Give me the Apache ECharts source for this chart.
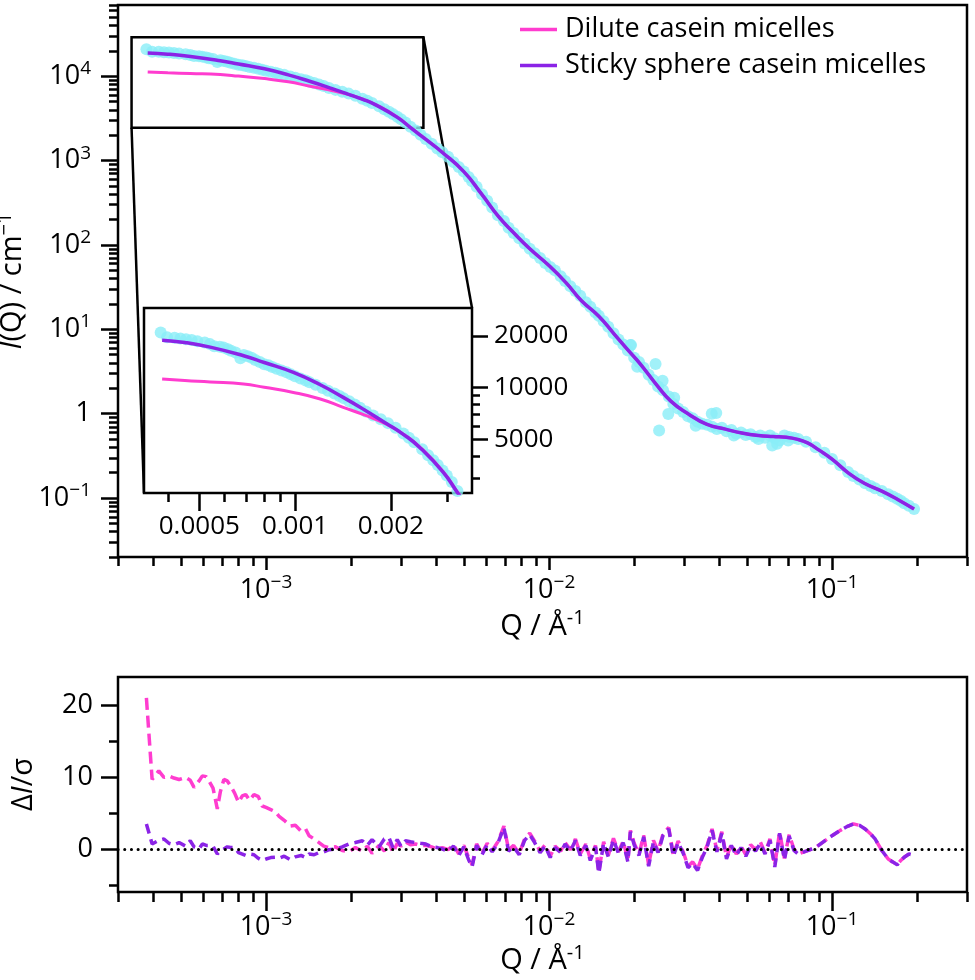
<!DOCTYPE html>
<html><head><meta charset="utf-8">
<script src="https://cdn.jsdelivr.net/npm/echarts@6/dist/echarts.min.js"></script>
<style>html,body{margin:0;padding:0;background:#fff}#c{width:975px;height:980px}</style>
</head><body><div id="c"></div><script>
// ---------------- data ----------------
const dataQ = [
0.000378,0.000396,0.000418,0.000436,0.000454,0.000473,0.000493,0.000520,0.000540,0.000557,
0.000580,0.000596,0.000615,0.000629,0.000650,0.000673,0.000690,0.000710,0.000730,0.000750,
0.000775,0.000800,0.000825,0.000848,0.000875,0.000907,0.000940,0.000970,0.00100,0.00104,
0.00108,0.00111,0.00116,0.00122,0.00127,0.00133,0.00138,0.00142,0.00148,0.00154,
0.00160,0.00167,0.00176,0.00186,0.00196,0.00207,0.00219,0.00228,0.00237,0.00251,
0.00262,0.00272,0.00281,0.00291,0.00300,0.00311,0.00324,0.00338,0.00352,0.00367,
0.00385,0.00403,
0.00420,0.00440,0.00460,0.00480,0.00500,0.00520,0.00535,0.00555,0.00580,0.00605,
0.00630,0.00660,0.00693,0.00720,0.00750,0.00785,0.00820,0.00855,0.00890,0.00930,
0.00970,0.0101,0.0105,0.0110,0.0114,0.0119,0.0124,0.0129,0.0135,0.0140,
0.0146,0.0150,0.0156,0.0162,0.0169,0.0176,0.0183,0.0190,0.0194,0.0200,
0.0208,0.0216,0.0225,0.0234,0.0243,0.0253,0.0265,0.0275,0.0286,0.0298,
0.0310,0.0322,0.0335,0.0348,0.0362,0.0377,0.0392,0.0408,0.0424,0.0441,
0.0459,0.0477,0.0496,0.0516,0.0537,0.0558,0.0580,0.0604,0.0628,0.0653,
0.0679,0.0706,0.0734,
0.0760,0.0810,0.0875,0.0940,0.100,0.107,0.114,0.119,0.125,0.131,
0.137,0.142,0.150,0.158,0.164,0.170,0.175,0.180,0.187,0.195];
const dataI = [
20900,19600,19500,19300,19100,18900,18600,18300,17900,17400,
17300,17100,16700,16400,16000,14800,15500,15200,14900,14500,
14100,13700,13500,13200,12900,12600,12300,11950,11650,11300,
11000,10750,10400,9950,9600,9250,8950,8700,8350,8000,
7650,7280,6900,6560,6230,5860,5430,5120,4830,4400,
4060,3800,3560,3310,3100,2840,2520,2280,2030,1810,
1590,1390,
1260,1110,960,840,745,640,570,490,400,335,
278,225,192,160,139,120,104,90,80,70,
61,55,50,42.5,37.5,32.5,28.5,25,21,18.5,
15.8,14.5,12.5,10.7,9.0,7.6,6.6,5.6,6.5,4.6,
4.1,3.5,2.9,2.5,2.1,1.9,1.6,1.3,1.15,1.05,
0.93,0.88,0.80,0.76,0.74,0.70,0.66,0.68,0.62,0.64,
0.58,0.60,0.56,0.57,0.53,0.55,0.52,0.55,0.51,0.48,
0.55,0.53,0.52,
0.50,0.465,0.40,0.345,0.29,0.245,0.203,0.183,0.166,0.150,
0.139,0.131,0.121,0.111,0.104,0.098,0.093,0.087,0.081,0.074];
const extraQ = [0.0195,0.0205,0.0238,0.0245,0.0252,0.0264,0.0277,0.0330,0.0376,0.0390,0.0450,0.0550,0.0615,0.0640,0.0700];
const extraI = [6.5,3.6,3.87,0.63,2.45,0.99,1.55,0.72,1.0,1.02,0.55,0.50,0.42,0.44,0.48];

const fitQ = [0.000382,0.00045,0.000541,0.000689,0.0008,0.000988,0.0012,0.001417,0.00165,0.001937,
0.0022,0.00246,0.00292,0.00325,0.0037,0.0042,0.005,0.0058,0.00665,0.0075,
0.0085,0.01,0.0115,0.013,0.015,0.017,0.019,0.021,0.024,0.027,
0.031,0.036,0.042,0.048,0.055,0.062,0.069,0.075,0.082,0.09,
0.1,0.115,0.13,0.15,0.17,0.195];
const fitDilute = [11230,11000,10800,10500,10050,9390,8600,7690,6950,6150,
5350,4560,3270,2460,1760,1255,742,396,215,140,
92,57,35.6,22,14.3,8.8,5.7,3.9,2.2,1.4,
1.0,0.75,0.656,0.59,0.55,0.535,0.525,0.50,0.45,0.37,
0.29,0.195,0.15,0.121,0.097,0.074];
const fitSticky = [18880,18300,17200,15320,14000,12260,10400,8790,7450,6200,
5330,4520,3236,2443,1745,1250,740,395,215,140,
92,57,35.6,22,14.3,8.8,5.7,3.9,2.2,1.4,
1.0,0.75,0.656,0.59,0.55,0.535,0.525,0.50,0.45,0.37,
0.29,0.195,0.15,0.121,0.097,0.074];

const residDilute = [
21.1,9.7,10.9,10.0,10.2,9.9,9.7,10.0,9.6,8.6,
9.5,10.2,10.1,9.5,8.5,5.6,8.0,9.7,9.5,8.8,
7.8,6.5,7.4,7.6,6.8,7.6,7.3,6.0,5.8,5.5,
5.2,4.6,4.0,3.2,3.3,2.5,2.8,1.85,1.4,0.9,
0.4,0.2,0.3,-0.2,-0.4,0.2,-0.3,0.4,-0.6,0.5,
-0.3,0.9,-0.5,0.8,0.4,1.0,0.6,0.7,0.5,0.5,
0.3,0.0,
0.2,-0.1,0.6,-0.7,0.5,-1.2,-2.2,0.7,-0.6,0.8,
-0.2,1.0,3.2,-0.1,0.5,-0.6,1.4,2.2,1.1,-0.3,
0.6,-1.0,0.4,-0.3,0.9,-0.1,1.4,-0.7,0.7,-1.4,
0.5,-3.2,1.0,-0.9,1.5,-0.4,1.1,-1.6,2.6,0.8,
-0.7,1.9,-2.2,1.2,-0.3,2.1,3.0,-0.8,1.1,-0.4,
-2.4,-1.8,-2.8,-1.0,0.5,2.8,-0.2,2.4,-1.2,0.7,
-0.7,0.4,-0.8,0.6,-0.1,1.0,-0.5,1.4,-2.3,2.4,
-1.3,2.0,0.0,
-0.7,-0.3,0.2,1.1,1.85,2.6,3.2,3.5,3.3,2.8,
2.1,1.4,-0.2,-1.4,-1.8,-2.2,-1.6,-1.15,-0.7,-0.9];
const residSticky = [
3.5,0.7,1.2,1.4,0.8,0.6,0.9,0.4,1.15,0.3,
0.0,0.7,0.5,0.5,0.4,-0.7,-0.3,0.0,0.3,0.2,
0.2,-0.5,-0.7,-0.9,-0.7,-0.8,-1.3,-1.6,-1.4,-1.2,
-1.15,-1.3,-1.0,-1.5,-1.1,-0.9,-1.2,-0.7,-0.8,-0.5,
-0.4,-0.1,0.0,0.3,0.7,0.9,1.15,0.5,1.3,0.3,
1.4,1.6,0.2,1.3,0.4,1.15,1.0,0.9,0.8,0.7,
0.3,0.2,
0.0,-0.3,0.4,-0.9,0.3,-1.5,-2.5,0.5,-0.8,0.6,
-0.4,0.8,3.0,-0.3,0.3,-0.8,1.2,2.0,0.9,-0.5,
0.4,-1.2,0.2,-0.5,0.7,-0.3,1.2,-0.9,0.5,-1.6,
0.3,-3.4,0.8,-1.1,1.3,-0.6,0.9,-1.8,2.4,0.6,
-0.9,1.7,-2.4,1.0,-0.5,1.9,2.8,-1.0,0.9,-0.6,
-2.6,-2.0,-3.0,-1.2,0.3,2.6,-0.4,2.2,-1.4,0.5,
-0.9,0.2,-1.0,0.4,-0.3,0.8,-0.7,1.2,-2.5,2.2,
-1.5,1.8,-0.2,
-0.7,-0.3,0.2,1.1,1.85,2.6,3.2,3.5,3.3,2.8,
2.1,1.4,-0.2,-1.4,-1.8,-2.2,-1.6,-1.15,-0.7,-0.9];

// axis ranges and ticks
const qRange = [3e-4, 0.3];
const iRange = [0.02, 7e4];
const insetQRange = [3.35e-4, 3.6e-3];
const insetIRange = [2450, 29000];
const residRange = [-6, 24];

const mainXTicks = [1e-3, 1e-2, 1e-1];
const mainXTickLabels = ['10{s|−3}', '10{s|−2}', '10{s|−1}'];
const mainXMinor = [3e-4,4e-4,5e-4,6e-4,7e-4,8e-4,9e-4,2e-3,3e-3,4e-3,5e-3,6e-3,7e-3,8e-3,9e-3,
  2e-2,3e-2,4e-2,5e-2,6e-2,7e-2,8e-2,9e-2,0.2,0.3];
const mainYTicks = [0.1, 1, 10, 100, 1000, 10000];
const mainYTickLabels = ['10{s|−1}', '1', '10{s|1}', '10{s|2}', '10{s|3}', '10{s|4}'];
const mainYMinor = [0.02,0.03,0.04,0.05,0.06,0.07,0.08,0.09,0.2,0.3,0.4,0.5,0.6,0.7,0.8,0.9,
  2,3,4,5,6,7,8,9,20,30,40,50,60,70,80,90,200,300,400,500,600,700,800,900,
  2000,3000,4000,5000,6000,7000,8000,9000,20000,30000,40000,50000,60000,70000];
const insetXTicks = [0.0005, 0.001, 0.002];
const insetXTickLabels = ['0.0005', '0.001', '0.002'];
const insetXMinor = [4e-4, 6e-4, 7e-4, 8e-4, 9e-4, 3e-3];
const insetYTicks = [5000, 10000, 20000];
const insetYTickLabels = ['5000', '10000', '20000'];
const insetYMinor = [3000, 4000, 6000, 7000, 8000, 9000];
const residYTicks = [0, 10, 20];
const residYTickLabels = ['0', '10', '20'];
const residYMinor = [-5, 5, 15];

const names = ['Dilute casein micelles', 'Sticky sphere casein micelles'];

// ---------------- styling ----------------
const F = 'Open Sans';
const PINK = '#ff3ccf', PURPLE = '#8b23e6', CYAN = '#8aeef8';
const LW = 2.5;
const SUP = { fontSize: 19, fontFamily: F, color: '#000', padding: [0, 0, 15, 0] };
const SUPN = { fontSize: 20, fontFamily: F, color: '#000', padding: [0, 0, 16, 0] };
const IT = { fontStyle: 'italic', fontSize: 29, fontFamily: F, color: '#000' };
const NRM = { fontSize: 29, fontFamily: F, color: '#000' };

function lookup(ticks, labels) {
  return function (v) {
    for (let k = 0; k < ticks.length; k++) {
      if (Math.abs(ticks[k] - v) <= Math.abs(ticks[k]) * 1e-6 + 1e-12) return labels[k];
    }
    return '';
  };
}
function majorAxis(o) {
  return {
    type: o.type || 'log', gridIndex: o.grid, min: o.range[0], max: o.range[1], position: o.pos,
    axisLine: { show: false, onZero: false },
    splitLine: { show: false },
    axisTick: { show: true, inside: false, length: o.len, customValues: o.ticks,
      lineStyle: { color: '#000', width: LW } },
    axisLabel: { show: true, customValues: o.ticks, formatter: lookup(o.ticks, o.labels),
      margin: o.margin, fontSize: o.fs, fontFamily: F, color: '#000', rich: { s: SUP } },
    name: o.name || '', nameLocation: 'middle', nameGap: o.nameGap || 0, nameRotate: o.nameRotate,
    nameTextStyle: { fontSize: 29, fontFamily: F, color: '#000', rich: { s: SUPN, i: IT, n: NRM } },
    z: 5
  };
}
function minorAxis(o) {
  return {
    type: o.type || 'log', gridIndex: o.grid, min: o.range[0], max: o.range[1], position: o.pos,
    axisLine: { show: false, onZero: false }, splitLine: { show: false },
    axisTick: { show: true, inside: false, length: o.len, customValues: o.ticks,
      lineStyle: { color: '#000', width: LW } },
    axisLabel: { show: false }, z: 5
  };
}

const scatterData = dataQ.map((q, k) => [q, dataI[k]]).concat(extraQ.map((q, k) => [q, extraI[k]]));
const diluteData = fitQ.map((q, k) => [q, fitDilute[k]]);
const stickyData = fitQ.map((q, k) => [q, fitSticky[k]]);
const rDil = dataQ.map((q, k) => [q, residDilute[k]]);
const rSti = dataQ.map((q, k) => [q, residSticky[k]]);

const gridBase = { show: true, borderColor: '#000', borderWidth: LW, backgroundColor: '#fff',
  containLabel: false, outerBoundsMode: 'none' };

const option = {
  animation: false,
  backgroundColor: '#fff',
  grid: [
    Object.assign({ left: 118, top: 5, width: 849, height: 552 }, gridBase),
    Object.assign({ left: 144, top: 308, width: 328, height: 185, z: 3 }, gridBase),
    Object.assign({ left: 118, top: 677, width: 849, height: 215 }, gridBase)
  ],
  xAxis: [
    majorAxis({ grid: 0, range: qRange, pos: 'bottom', len: 13, ticks: mainXTicks, labels: mainXTickLabels,
      margin: 16, fs: 27, name: '{n|Q / Å}{s|-1}', nameGap: 46 }),
    minorAxis({ grid: 0, range: qRange, pos: 'bottom', len: 9, ticks: mainXMinor }),
    majorAxis({ grid: 1, range: insetQRange, pos: 'bottom', len: 18, ticks: insetXTicks, labels: insetXTickLabels,
      margin: 21, fs: 26 }),
    minorAxis({ grid: 1, range: insetQRange, pos: 'bottom', len: 9, ticks: insetXMinor }),
    majorAxis({ grid: 2, range: qRange, pos: 'bottom', len: 19, ticks: mainXTicks, labels: mainXTickLabels,
      margin: 18, fs: 27, name: '{n|Q / Å}{s|-1}', nameGap: 51 }),
    minorAxis({ grid: 2, range: qRange, pos: 'bottom', len: 10, ticks: mainXMinor })
  ],
  yAxis: [
    majorAxis({ grid: 0, range: iRange, pos: 'left', len: 17, ticks: mainYTicks, labels: mainYTickLabels,
      margin: 27, fs: 27, name: '{i|I}{n|(Q) / cm}{s|−1}', nameGap: 74, nameRotate: 90 }),
    minorAxis({ grid: 0, range: iRange, pos: 'left', len: 9, ticks: mainYMinor }),
    majorAxis({ grid: 1, range: insetIRange, pos: 'right', len: 16, ticks: insetYTicks, labels: insetYTickLabels,
      margin: 22, fs: 26 }),
    minorAxis({ grid: 1, range: insetIRange, pos: 'right', len: 8, ticks: insetYMinor }),
    majorAxis({ type: 'value', grid: 2, range: residRange, pos: 'left', len: 17, ticks: residYTicks, labels: residYTickLabels,
      margin: 25, fs: 27, name: '{n|Δ}{i|I}{n|/σ}', nameGap: 80, nameRotate: 90 }),
    minorAxis({ type: 'value', grid: 2, range: residRange, pos: 'left', len: 9, ticks: residYMinor })
  ],
  legend: {
    orient: 'vertical', left: 515, top: 11, itemWidth: 37, itemHeight: 3.5, itemGap: 9,
    icon: 'rect', selectedMode: false, data: names,
    textStyle: { fontSize: 27, fontFamily: F, color: '#000', padding: [0, 0, 0, 3] }
  },
  series: [
    { type: 'scatter', name: 'data', xAxisIndex: 0, yAxisIndex: 0, data: scatterData, symbolSize: 12,
      itemStyle: { color: CYAN }, z: 2, silent: true },
    { type: 'line', name: names[0], xAxisIndex: 0, yAxisIndex: 0, data: diluteData, showSymbol: false, symbol: 'none',
      smooth: 0.5, lineStyle: { color: PINK, width: 3 }, itemStyle: { color: PINK }, z: 3 },
    { type: 'line', name: names[1], xAxisIndex: 0, yAxisIndex: 0, data: stickyData, showSymbol: false, symbol: 'none',
      smooth: 0.5, lineStyle: { color: PURPLE, width: 3.5 }, itemStyle: { color: PURPLE }, z: 4 },
    { type: 'scatter', name: 'data inset', xAxisIndex: 2, yAxisIndex: 2, data: scatterData, symbolSize: 12,
      itemStyle: { color: CYAN }, z: 6, silent: true, clip: true },
    { type: 'line', name: 'dilute inset', xAxisIndex: 2, yAxisIndex: 2, data: diluteData, showSymbol: false, symbol: 'none',
      smooth: 0.5, lineStyle: { color: PINK, width: 3 }, z: 7, clip: true },
    { type: 'line', name: 'sticky inset', xAxisIndex: 2, yAxisIndex: 2, data: stickyData, showSymbol: false, symbol: 'none',
      smooth: 0.5, lineStyle: { color: PURPLE, width: 3.5 }, z: 8, clip: true },
    { type: 'line', name: 'dilute residual', xAxisIndex: 4, yAxisIndex: 4, data: rDil, showSymbol: false, symbol: 'none',
      lineStyle: { color: PINK, width: 3.5, type: [12, 6] }, z: 3 },
    { type: 'line', name: 'sticky residual', xAxisIndex: 4, yAxisIndex: 4, data: rSti, showSymbol: false, symbol: 'none',
      lineStyle: { color: PURPLE, width: 3.5, type: [10, 6] }, z: 4,
      markLine: { silent: true, symbol: ['none', 'none'], label: { show: false },
        lineStyle: { color: '#000', width: 3, type: [0.1, 6.6], cap: 'round' },
        data: [{ yAxis: 0 }] } }
  ]
};

const chart = echarts.init(document.getElementById('c'), null, { renderer: 'canvas' });
chart.setOption(option);

// zoom rectangle and connector lines, from the inset ranges
const tl = chart.convertToPixel({ xAxisIndex: 0, yAxisIndex: 0 }, [insetQRange[0], insetIRange[1]]);
const br = chart.convertToPixel({ xAxisIndex: 0, yAxisIndex: 0 }, [insetQRange[1], insetIRange[0]]);
const ibl = chart.convertToPixel({ xAxisIndex: 2, yAxisIndex: 2 }, [insetQRange[0], insetIRange[0]]);
const itr = chart.convertToPixel({ xAxisIndex: 2, yAxisIndex: 2 }, [insetQRange[1], insetIRange[1]]);
const ls = { stroke: '#000', lineWidth: LW, fill: null };
chart.setOption({
  graphic: [
    { type: 'rect', z: 1, shape: { x: tl[0], y: tl[1], width: br[0] - tl[0], height: br[1] - tl[1] }, style: ls, silent: true },
    { type: 'line', z: 1, shape: { x1: tl[0], y1: br[1], x2: ibl[0], y2: ibl[1] }, style: ls, silent: true },
    { type: 'line', z: 1, shape: { x1: br[0], y1: tl[1], x2: itr[0], y2: itr[1] }, style: ls, silent: true }
  ]
});
</script></body></html>
